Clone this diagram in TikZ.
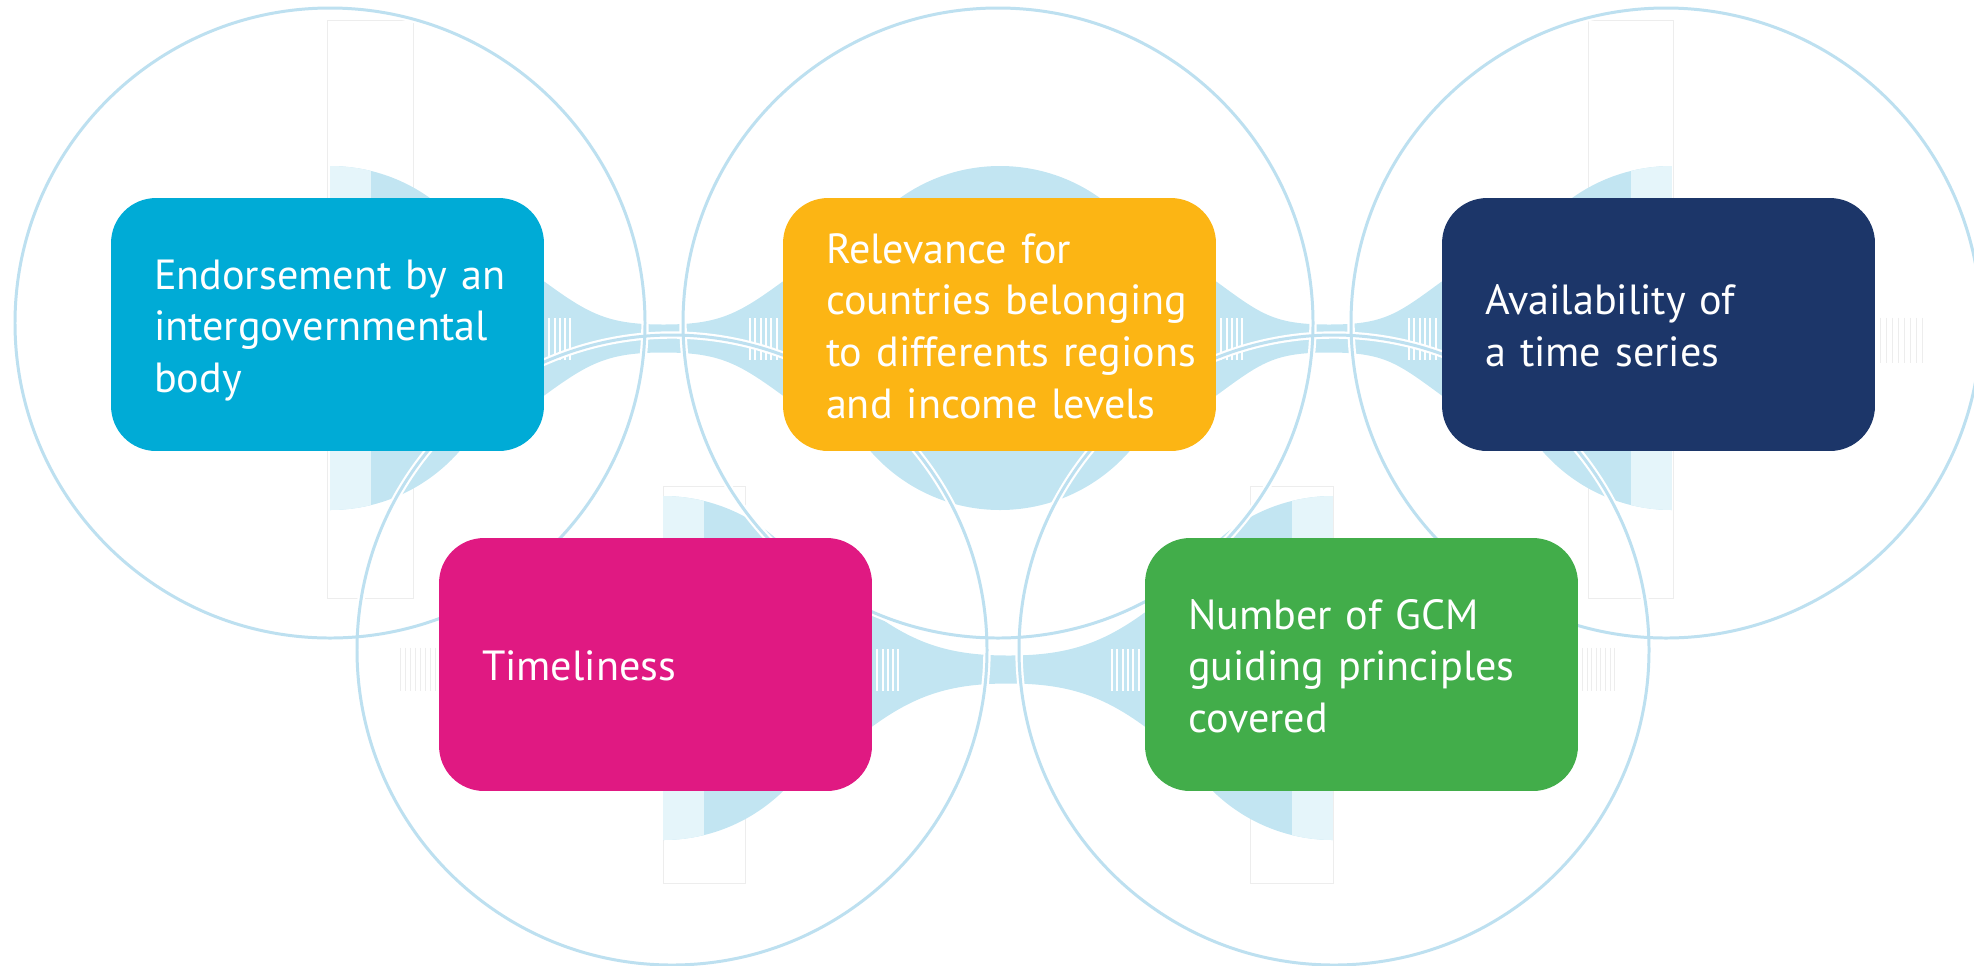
\documentclass[tikz,border=0pt]{standalone}
\usepackage{fontspec}
\setmainfont{PT Sans}
\usetikzlibrary{calc,backgrounds}
\hfuzz=80pt \hbadness=10000

\definecolor{ringblue}{rgb}{0.74, 0.88, 0.94}
\definecolor{bandblue}{rgb}{0.76, 0.90, 0.95}
\definecolor{paleblue}{rgb}{0.90, 0.96, 0.98}
\definecolor{boxcyan}{rgb}{0, 0.67, 0.84}
\definecolor{boxorange}{rgb}{0.99, 0.71, 0.08}
\definecolor{boxnavy}{rgb}{0.11, 0.21, 0.41}
\definecolor{boxmagenta}{rgb}{0.88, 0.10, 0.51}
\definecolor{boxgreen}{rgb}{0.26, 0.68, 0.29}

\tikzset{
  critbox/.style={rounded corners=0.9cm, minimum height=5.06cm, text width=6.94cm,
    inner xsep=0.86cm, text=white, font=\fontsize{24}{29.5}\selectfont},
  ring/.style={draw=ringblue, line width=1.7pt},
  ringhalo/.style={draw=white, line width=4.2pt},
  faint/.style={draw=black!7, line width=0.4pt},
}

% lines of a box text, kept unbroken and set a little low
\newcommand\critlines[1]{%
  \raisebox{-0.12cm}[\height][\depth]{\begin{tabular}{@{}l@{}}#1\end{tabular}}}

% light band between two boxes, #3 = drop of its axis
\newcommand\bandlink[3]{%
  \coordinate (bl) at ($(#1.east)+(0,#3)$);
  \coordinate (br) at ($(#2.west)+(0,#3)$);
  \coordinate (bm) at ($(bl)!0.5!(br)$);
  \fill[bandblue] ($(bl)+(-20,-57)$) -- ($(bl)+(0,-57)$)
    .. controls ($(bl)+(45,-24)$) and ($(bm)+(-55,-14)$) .. ($(bm)+(0,-14)$)
    .. controls ($(bm)+(55,-14)$) and ($(br)+(-45,-24)$) .. ($(br)+(0,-57)$)
    -- ($(br)+(20,-57)$) -- ($(br)+(20,57)$) -- ($(br)+(0,57)$)
    .. controls ($(br)+(-45,24)$) and ($(bm)+(55,14)$) .. ($(bm)+(0,14)$)
    .. controls ($(bm)+(-55,14)$) and ($(bl)+(45,24)$) .. ($(bl)+(0,57)$)
    -- ($(bl)+(-20,57)$) -- cycle;
  \foreach \i in {0,...,4} \fill[white] ($(bl)+(4+5.2*\i,-21)$) rectangle ++(2,42);
  \foreach \i in {0,...,5} \fill[white] ($(br)+(-34+5.4*\i,-21)$) rectangle ++(2,42);
}

% half disc behind a box, #1 = edge x, #2 = centre y, #3 = +1 right / -1 left
\newcommand\halfblob[3]{%
  \begin{scope}
    \clip (#1,#2) ++(0,-200) rectangle ++(#3*200,400);
    \clip (#1,#2) circle[radius=172];
    \fill[bandblue] (#1,#2) ++(0,-200) rectangle ++(#3*200,400);
    \fill[paleblue] (#1,#2) ++(0,-200) rectangle ++(#3*41,400);
  \end{scope}
}

\begin{document}
\begin{tikzpicture}[x=0.02cm, y=-0.02cm]
  \useasboundingbox (0,0) rectangle (1974,965);

  % criteria boxes
  \node[critbox, fill=boxcyan] (endorse) at (327.5,324.5)
    {\critlines{Endorsement by an\\intergovernmental\\body}};
  \node[critbox, fill=boxorange] (relevance) at (999.5,324.5)
    {\critlines{Relevance for\\countries belonging\\to differents regions\\and income levels}};
  \node[critbox, fill=boxnavy] (avail) at (1658.5,324.5)
    {\critlines{Availability of\\a time series}};
  \node[critbox, fill=boxmagenta] (timely) at (655.5,664.5)
    {\critlines{Timeliness}};
  \node[critbox, fill=boxgreen] (gcm) at (1361.5,664.5)
    {\critlines{Number of GCM\\guiding principles\\covered}};

  \begin{pgfonlayer}{background}
    % faint frames
    \draw[faint] (327,20) rectangle (413,598);
    \draw[faint] (1588,20) rectangle (1673,598);
    \draw[faint] (663,486) rectangle (745,883);
    \draw[faint] (1250,486) rectangle (1333,883);
    % blobs
    \halfblob{330}{338}{1}
    \fill[bandblue] (1000,338) circle[radius=172];
    \halfblob{1672}{338}{-1}
    \halfblob{663}{668}{1}
    \halfblob{1333}{668}{-1}
    % bands
    \bandlink{endorse}{relevance}{14}
    \bandlink{relevance}{avail}{14}
    \bandlink{timely}{gcm}{5}
    % faint stripes on the open sides
    \foreach \i in {0,...,7} {
      \draw[faint] ($(avail.east)+(5+6*\i,-7)$) -- ++(0,45);
      \draw[faint] ($(timely.west)+(-38+5*\i,-17)$) -- ++(0,43);
      \draw[faint] ($(gcm.east)+(4+4.6*\i,-17)$) -- ++(0,43);
    }
    % rings
    \foreach \cx/\cy in {330/323, 998/323, 1666/323, 672/650, 1334/650}
      \draw[ringhalo] (\cx,\cy) circle[radius=315];
    \foreach \cx/\cy in {330/323, 998/323, 1666/323, 672/650, 1334/650}
      \draw[ring] (\cx,\cy) circle[radius=315];
  \end{pgfonlayer}
\end{tikzpicture}
\end{document}
